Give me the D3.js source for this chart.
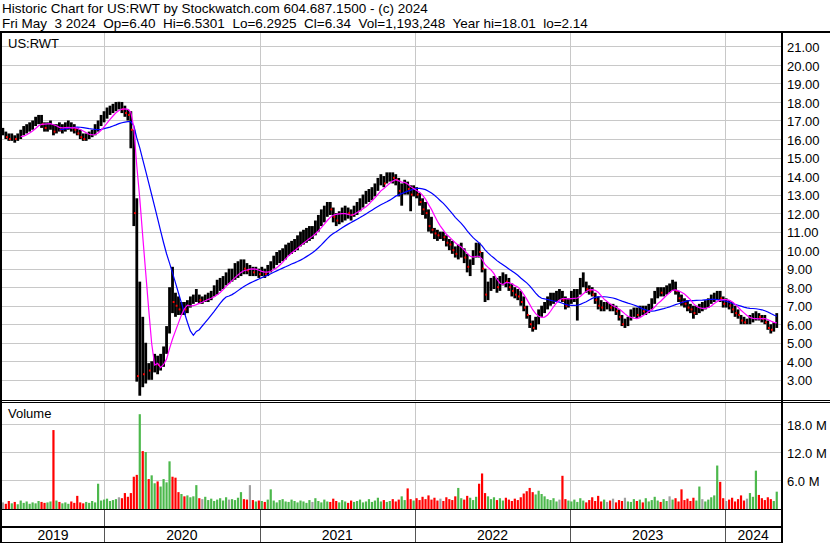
<!DOCTYPE html>
<html>
<head>
<meta charset="utf-8">
<script src="https://cdn.jsdelivr.net/npm/d3@7"></script>
<style>
body { margin: 0; background: #fff; }
svg text { font-family: "Liberation Sans", Arial, sans-serif; fill: #000; }
</style>
</head>
<body>
<svg id="chart" width="830" height="543"></svg>
<script>
// weekly bars, first week starts 2019-05-08
var firstWeek = new Date(2019, 4, 8);

var highs = [
  // 2019
  16.6,16.4,16.3,16.3,16.2,16.3,16.5,16.7,16.8,16.9,17.0,17.2,17.3,17.3,16.9,16.9,17.0,16.8,16.8,16.9,
  16.8,16.9,17.0,16.9,16.8,16.6,16.5,16.3,16.3,16.4,16.5,16.8,17.0,17.3,
  // 2020
  17.5,17.7,17.8,17.9,18.0,18.01,18.0,17.8,17.6,17.5,16.5,12.8,8.3,6.4,5.0,3.9,4.0,4.4,4.3,4.4,
  4.8,5.9,8.0,9.1,7.7,7.5,7.2,7.2,7.3,7.5,7.6,7.9,7.6,7.5,7.6,7.7,7.8,8.1,8.4,8.5,
  8.6,8.8,9.0,9.0,9.3,9.4,9.5,9.5,9.3,9.2,9.1,9.1,9.0,
  // 2021
  9.1,9.0,9.2,9.4,9.7,9.9,10.0,10.1,10.3,10.4,10.5,10.6,10.8,11.0,11.1,11.2,11.3,11.3,11.6,11.9,
  12.2,12.4,12.6,12.6,12.3,12.0,12.1,12.3,12.4,12.3,12.2,12.4,12.6,12.8,13.0,13.2,13.3,13.4,13.6,13.9,
  14.1,14.0,14.2,14.2,14.2,14.1,13.9,13.6,13.8,13.7,13.5,13.5,
  // 2022
  13.4,13.1,12.8,12.6,12.2,11.8,11.2,11.1,11.0,11.0,10.8,10.6,10.5,10.2,10.3,10.4,10.1,9.8,9.5,10.0,
  10.4,10.4,9.9,9.0,8.3,8.5,8.6,8.5,8.6,8.8,8.7,8.5,8.2,8.0,7.9,7.8,7.5,7.0,6.5,6.2,
  6.4,6.8,7.0,7.2,7.5,7.7,7.7,7.8,7.9,7.8,7.5,7.4,
  // 2023
  7.8,7.9,7.9,8.5,8.8,8.3,8.1,8.0,7.7,7.5,7.3,7.2,7.2,7.1,7.1,7.0,6.8,6.5,6.3,6.4,
  6.8,6.9,6.9,7.0,7.0,7.0,7.1,7.4,7.8,8.0,8.0,8.0,8.1,8.2,8.4,8.3,7.8,7.6,7.4,7.3,
  7.1,7.0,7.0,7.1,7.2,7.3,7.4,7.6,7.7,7.8,7.8,7.5,
  // 2024
  7.4,7.3,7.2,7.0,6.8,6.5,6.4,6.3,6.5,6.6,6.7,6.6,6.5,6.5,6.2,6.0,6.1,6.6
];

var lows = [
  // 2019
  16.2,16.0,15.9,15.9,15.8,15.9,16.0,16.2,16.3,16.4,16.5,16.7,16.8,16.6,16.4,16.4,16.5,16.2,16.3,16.4,
  16.3,16.4,16.5,16.4,16.3,16.2,16.0,15.9,15.9,16.0,16.1,16.2,16.4,16.7,
  // 2020
  16.9,17.1,17.3,17.4,17.5,17.6,17.4,17.2,17.0,15.5,11.3,2.9,2.14,2.6,2.8,3.0,3.0,3.4,3.3,3.5,
  3.7,4.4,5.5,6.6,6.4,6.5,6.5,6.5,6.6,6.9,7.1,7.2,7.1,7.1,7.2,7.2,7.3,7.5,7.6,7.8,
  7.9,8.1,8.2,8.3,8.4,8.5,8.6,8.7,8.7,8.6,8.6,8.6,8.5,
  // 2021
  8.6,8.5,8.6,8.8,9.0,9.2,9.3,9.4,9.5,9.7,9.8,9.9,10.0,10.2,10.3,10.4,10.5,10.6,10.8,11.0,
  11.3,11.5,11.8,11.9,11.5,11.3,11.4,11.5,11.6,11.7,11.6,11.8,11.9,12.1,12.3,12.5,12.6,12.7,12.9,13.2,
  13.5,13.4,13.6,13.7,13.6,13.5,12.9,12.4,13.0,13.0,12.1,12.9,
  // 2022
  12.8,12.4,11.9,11.7,11.0,10.9,10.6,10.5,10.6,10.5,10.2,10.0,9.8,9.6,9.5,9.6,9.3,8.8,8.6,9.2,
  9.6,9.6,8.8,7.2,7.3,7.8,7.9,7.7,7.8,8.1,8.0,7.8,7.5,7.4,7.3,7.0,6.7,6.3,5.8,5.6,
  5.7,6.0,6.4,6.6,6.8,7.0,7.1,7.2,7.3,7.2,6.8,6.9,
  // 2023
  7.1,7.2,6.2,7.6,8.0,7.7,7.6,7.5,7.1,6.8,6.7,6.7,6.8,6.7,6.7,6.5,6.2,5.9,5.8,5.9,
  6.2,6.4,6.3,6.4,6.5,6.5,6.6,6.8,7.1,7.4,7.5,7.5,7.6,7.7,7.8,7.6,7.2,7.0,6.9,6.7,
  6.6,6.3,6.5,6.6,6.7,6.8,6.9,7.1,7.2,7.3,7.2,6.9,
  // 2024
  6.9,6.8,6.6,6.4,6.3,6.0,6.0,6.0,6.0,6.1,6.2,6.2,6.1,6.0,5.7,5.5,5.6,5.8
];

var closes = [
  // 2019
  16.3,16.1,16.0,16.1,16.0,16.1,16.3,16.5,16.6,16.7,16.8,17.0,17.1,16.8,16.6,16.7,16.8,16.4,16.6,16.5,
  16.6,16.7,16.8,16.6,16.5,16.3,16.1,16.0,16.1,16.2,16.4,16.6,16.9,17.1,
  // 2020
  17.3,17.5,17.6,17.7,17.8,17.8,17.6,17.4,17.3,16.5,12.0,3.2,5.5,3.3,3.6,3.5,3.6,3.9,3.8,3.9,
  4.5,5.6,7.5,7.2,7.0,6.8,6.9,6.8,7.0,7.2,7.3,7.4,7.3,7.3,7.4,7.5,7.6,7.9,8.1,8.2,
  8.4,8.6,8.6,8.7,9.0,9.1,9.2,9.0,8.9,8.9,8.8,8.9,8.7,
  // 2021
  8.8,8.7,8.9,9.2,9.4,9.6,9.7,9.9,10.0,10.1,10.2,10.3,10.5,10.7,10.8,10.9,11.0,11.0,11.3,11.6,
  11.9,12.1,12.3,12.2,11.8,11.6,11.8,12.0,12.1,12.0,11.9,12.1,12.3,12.5,12.7,12.9,13.0,13.1,13.3,13.6,
  13.8,13.6,13.9,14.0,13.9,13.8,13.2,13.3,13.5,13.3,13.0,13.2,
  // 2022
  13.0,12.6,12.2,12.0,11.3,11.1,10.9,10.8,10.8,10.7,10.4,10.3,10.0,9.8,9.9,10.1,9.6,9.1,9.2,9.7,
  10.1,9.9,9.0,7.6,8.0,8.2,8.3,8.0,8.4,8.5,8.3,8.0,7.8,7.6,7.5,7.2,6.9,6.5,6.0,5.8,
  6.1,6.5,6.8,7.0,7.3,7.4,7.5,7.6,7.6,7.3,7.0,7.2,
  // 2023
  7.5,7.6,7.7,8.2,8.3,7.9,7.8,7.6,7.3,7.0,6.9,7.0,7.0,6.9,6.9,6.7,6.4,6.0,6.0,6.1,
  6.5,6.6,6.5,6.8,6.7,6.8,6.9,7.2,7.6,7.8,7.7,7.8,7.9,7.9,8.1,7.8,7.4,7.2,7.1,6.9,
  6.8,6.6,6.8,6.9,6.9,7.1,7.2,7.4,7.5,7.6,7.4,7.1,
  // 2024
  7.1,7.0,6.8,6.6,6.5,6.2,6.1,6.1,6.3,6.4,6.5,6.4,6.3,6.1,5.8,5.7,5.9,6.34
];

// volume in millions (peak daily volume seen in each week)
var volumes = [
  // 2019
  1.2,0.9,1.5,1.0,1.3,0.8,1.6,1.1,1.4,0.9,1.2,1.0,1.5,1.3,1.1,1.2,1.4,16.7,1.6,1.3,
  1.0,1.2,0.9,1.4,1.1,2.6,1.2,1.0,1.3,1.1,1.5,1.2,5.2,1.6,
  // 2020
  1.8,2.0,1.5,1.7,1.9,2.3,2.1,3.2,2.4,3.2,6.7,7.1,20.1,12.2,12.0,6.2,7.0,5.3,5.7,4.6,
  6.2,5.5,10.0,6.7,6.5,3.4,3.0,2.5,2.7,2.3,2.5,4.9,2.1,1.9,2.4,1.7,2.0,1.5,1.8,2.1,
  1.6,2.3,1.8,1.9,1.7,2.2,3.4,1.9,1.8,4.9,1.7,1.4,1.6,
  // 2021
  1.5,1.3,1.8,4.0,1.6,1.2,1.7,1.9,1.4,1.3,1.8,1.5,1.2,1.6,1.4,1.1,1.7,1.3,2.1,1.5,
  1.2,1.8,1.4,1.3,2.0,1.5,1.2,1.7,1.4,1.1,1.6,1.3,1.5,1.8,1.2,1.4,1.9,1.3,1.6,2.2,
  1.4,1.7,1.3,1.5,1.9,1.4,1.8,2.5,1.7,4.2,1.9,1.6,
  // 2022
  2.1,1.7,2.4,1.9,2.7,1.8,2.2,1.6,2.0,1.5,2.3,1.9,1.7,2.5,4.3,2.1,1.8,2.6,2.2,1.7,
  2.4,5.2,7.4,3.2,2.5,1.9,2.3,1.7,2.1,1.6,2.2,1.8,1.5,2.0,1.7,2.3,3.1,3.6,4.3,3.4,
  2.9,3.7,3.0,2.5,1.9,1.7,2.1,1.4,1.8,6.9,1.9,1.6,
  // 2023
  1.4,1.8,1.3,2.1,1.6,1.2,1.7,2.3,1.5,2.6,1.4,1.8,1.3,1.6,2.0,1.2,1.7,1.5,2.2,1.4,
  1.3,1.9,1.5,1.8,1.2,2.1,1.4,1.7,2.4,1.6,1.3,1.9,1.5,2.5,1.8,2.1,1.4,4.0,1.7,2.0,
  1.5,2.2,1.6,4.6,1.9,1.4,1.8,2.3,2.7,9.1,5.6,2.1,
  // 2024
  1.5,1.8,2.2,1.4,1.9,2.7,1.6,2.0,3.2,2.4,8.0,2.8,2.1,1.7,2.3,1.9,1.5,3.5
];

var priceTicks = [3,4,5,6,7,8,9,10,11,12,13,14,15,16,17,18,19,20,21];
var volumeTicks = [6, 12, 18];
var yearBreaks = [2020, 2021, 2022, 2023, 2024];
var yearLabels = ["2019", "2020", "2021", "2022", "2023", "2024"];

var titleLine1 = "Historic Chart for US:RWT by Stockwatch.com 604.687.1500 - (c) 2024";
var titleLine2 = "Fri May  3 2024  Op=6.40  Hi=6.5301  Lo=6.2925  Cl=6.34  Vol=1,193,248  Year hi=18.01  lo=2.14";

var width = 830, height = 543;
var plotLeft = 2, plotRight = 781;
var priceTop = 33, priceBottom = 400;
var volTop = 403, volBottom = 509;
var gridColor = "#c8c8c8";

var svg = d3.select("#chart");

var weeks = closes.map(function(d, i) { return d3.timeDay.offset(firstWeek, 7 * i); });

var x = d3.scaleTime()
  .domain([new Date(2019, 4, 6), new Date(2024, 4, 11)])
  .range([plotLeft, plotRight]);

var y = d3.scaleLinear()
  .domain([3, 21])
  .range([379.8, 46.4]);

var yVol = d3.scaleLinear()
  .domain([0, 18])
  .range([508, 424]);

function sma(values, n) {
  return values.map(function(d, i) {
    if (i < n - 1) return null;
    return d3.mean(values.slice(i - n + 1, i + 1));
  });
}

var maShort = sma(closes, 7);
var maLong = sma(closes, 20);

// --- grids
var priceGrid = svg.append("g").attr("class", "price-grid");
priceGrid.selectAll("line")
  .data(priceTicks)
  .enter().append("line")
  .attr("x1", plotLeft).attr("x2", plotRight)
  .attr("y1", function(d) { return Math.round(y(d)) + 0.5; })
  .attr("y2", function(d) { return Math.round(y(d)) + 0.5; })
  .attr("stroke", gridColor);

var volGrid = svg.append("g").attr("class", "vol-grid");
volGrid.selectAll("line")
  .data(volumeTicks)
  .enter().append("line")
  .attr("x1", plotLeft).attr("x2", plotRight)
  .attr("y1", function(d) { return Math.round(yVol(d)) + 0.5; })
  .attr("y2", function(d) { return Math.round(yVol(d)) + 0.5; })
  .attr("stroke", gridColor);

var yearGrid = svg.append("g").attr("class", "year-grid");
yearBreaks.forEach(function(yr) {
  var xx = Math.round(x(new Date(yr, 0, 1))) + 0.5;
  yearGrid.append("line")
    .attr("x1", xx).attr("x2", xx).attr("y1", priceTop).attr("y2", priceBottom)
    .attr("stroke", gridColor);
  yearGrid.append("line")
    .attr("x1", xx).attr("x2", xx).attr("y1", volTop).attr("y2", volBottom)
    .attr("stroke", gridColor);
  yearGrid.append("line")
    .attr("x1", xx).attr("x2", xx).attr("y1", volBottom).attr("y2", height)
    .attr("stroke", "#555");
});

// --- price bars
var bars = svg.append("g").attr("class", "bars");
bars.selectAll("rect")
  .data(closes)
  .enter().append("rect")
  .attr("x", function(d, i) { return x(weeks[i]) - 1.4; })
  .attr("width", 2.8)
  .attr("y", function(d, i) { return y(highs[i]); })
  .attr("height", function(d, i) { return Math.max(1, y(lows[i]) - y(highs[i])); })
  .attr("fill", "#000");

// red ticks on down weeks
bars.selectAll(".down")
  .data(closes.map(function(d, i) { return i; }).filter(function(i) { return i > 0 && closes[i] < closes[i - 1]; }))
  .enter().append("rect")
  .attr("class", "down")
  .attr("x", function(i) { return x(weeks[i]) + 0.2; })
  .attr("y", function(i) { return y(closes[i]) - 1; })
  .attr("width", 1.8)
  .attr("height", 2)
  .attr("fill", "#ff0000");

// --- moving averages
var maLine = d3.line()
  .defined(function(d) { return d !== null; })
  .x(function(d, i) { return x(weeks[i]); })
  .y(function(d) { return y(d); });

svg.append("path")
  .datum(maLong)
  .attr("d", maLine)
  .attr("fill", "none")
  .attr("stroke", "#0000ff")
  .attr("stroke-width", 1.2);

svg.append("path")
  .datum(maShort)
  .attr("d", maLine)
  .attr("fill", "none")
  .attr("stroke", "#ff00ff")
  .attr("stroke-width", 1.2);

// --- volume bars
var volBars = svg.append("g").attr("class", "volume");
volBars.selectAll("rect")
  .data(volumes)
  .enter().append("rect")
  .attr("x", function(d, i) { return x(weeks[i]) - 1.1; })
  .attr("width", 2.2)
  .attr("y", function(d) { return yVol(d); })
  .attr("height", function(d) { return volBottom - yVol(d); })
  .attr("fill", function(d, i) {
    if (i === 0 || closes[i] === closes[i - 1]) return "#a0a0a0";
    return closes[i] > closes[i - 1] ? "#4cb84c" : "#ff0000";
  });

// --- frame
var frame = svg.append("g").attr("class", "frame").attr("stroke", "#000");
frame.append("line").attr("x1", 0).attr("x2", width).attr("y1", 32).attr("y2", 32).attr("stroke-width", 2);
frame.append("line").attr("x1", 1).attr("x2", 1).attr("y1", 32).attr("y2", height).attr("stroke-width", 2);
frame.append("line").attr("x1", plotRight + 1).attr("x2", plotRight + 1).attr("y1", 32).attr("y2", height).attr("stroke-width", 2);
frame.append("line").attr("x1", 0).attr("x2", width).attr("y1", 400.5).attr("y2", 400.5);
frame.append("line").attr("x1", 0).attr("x2", width).attr("y1", 402.5).attr("y2", 402.5);
frame.append("line").attr("x1", 0).attr("x2", plotRight).attr("y1", volBottom + 0.5).attr("y2", volBottom + 0.5);
frame.append("line").attr("x1", 0).attr("x2", plotRight).attr("y1", 527).attr("y2", 527).attr("stroke-width", 2);
frame.append("line").attr("x1", 0).attr("x2", plotRight).attr("y1", 542.5).attr("y2", 542.5);

// --- axes (right side)
var priceAxis = d3.axisRight(y)
  .tickValues(priceTicks)
  .tickSize(0)
  .tickPadding(0)
  .tickFormat(d3.format(".2f"));

svg.append("g")
  .attr("transform", "translate(787,1)")
  .call(priceAxis)
  .call(function(g) { g.select(".domain").remove(); })
  .selectAll("text")
  .attr("font-size", 13)
  .style("font-family", "'Liberation Sans', Arial, sans-serif");

var volAxis = d3.axisRight(yVol)
  .tickValues(volumeTicks)
  .tickSize(0)
  .tickPadding(0)
  .tickFormat(function(d) { return d3.format(".1f")(d) + " M"; });

svg.append("g")
  .attr("transform", "translate(787,1)")
  .call(volAxis)
  .call(function(g) { g.select(".domain").remove(); })
  .selectAll("text")
  .attr("font-size", 13)
  .style("font-family", "'Liberation Sans', Arial, sans-serif");

// --- year labels
var bounds = [x.domain()[0]].concat(yearBreaks.map(function(yr) { return new Date(yr, 0, 1); })).concat([x.domain()[1]]);
svg.append("g").selectAll("text")
  .data(yearLabels)
  .enter().append("text")
  .attr("x", function(d, i) { return (x(bounds[i]) + x(bounds[i + 1])) / 2; })
  .attr("y", 540)
  .attr("text-anchor", "middle")
  .attr("font-size", 14)
  .text(function(d) { return d; });

// --- titles
svg.append("text").attr("x", 2).attr("y", 13).attr("font-size", 13.5)
  .style("white-space", "pre").text(titleLine1);
svg.append("text").attr("x", 2).attr("y", 28).attr("font-size", 13.5)
  .style("white-space", "pre").text(titleLine2);
svg.append("text").attr("x", 8).attr("y", 48).attr("font-size", 13).text("US:RWT");
svg.append("text").attr("x", 8).attr("y", 418).attr("font-size", 13).text("Volume");
</script>
</body>
</html>
